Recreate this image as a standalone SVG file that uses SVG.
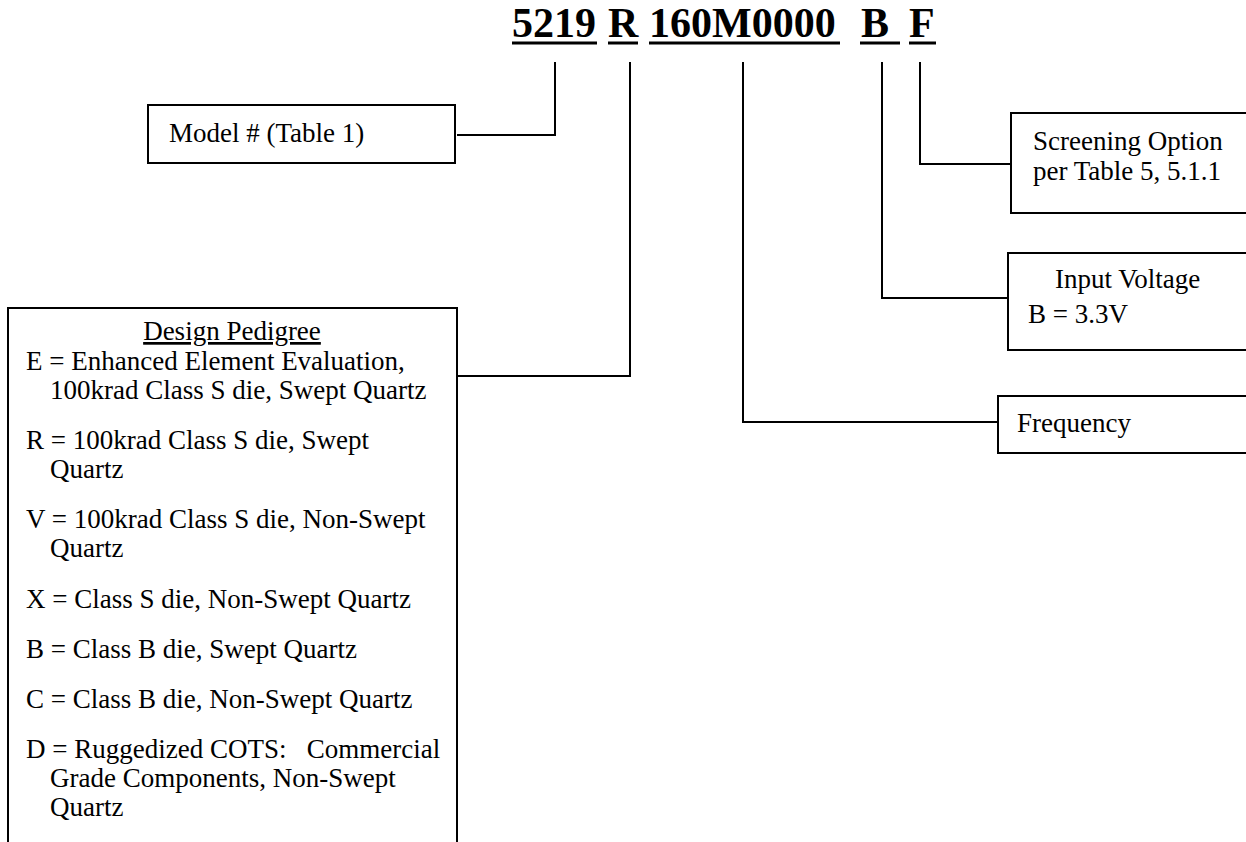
<svg xmlns="http://www.w3.org/2000/svg" width="1246" height="842" viewBox="0 0 1246 842">
<style>
.t{font-family:"Liberation Serif","Times New Roman",serif;font-size:27px;fill:#000}
.title{font-family:"Liberation Serif","Times New Roman",serif;font-size:42px;font-weight:bold;fill:#000}
.box{fill:#fff;stroke:#000;stroke-width:2}
.ul{stroke:#000;stroke-width:3}
.c{fill:none;stroke:#000;stroke-width:2}
</style>
<rect width="1246" height="842" fill="#fff"/>
<g id="title">
<text class="title" y="37"><tspan x="512">5219</tspan><tspan x="608">R</tspan><tspan x="649">160M0000</tspan><tspan x="861">B</tspan><tspan x="909">F</tspan></text>
<line class="ul" x1="512" y1="43" x2="597" y2="43"/>
<line class="ul" x1="608" y1="43" x2="638" y2="43"/>
<line class="ul" x1="649" y1="43" x2="840" y2="43"/>
<line class="ul" x1="860" y1="43" x2="900" y2="43"/>
<line class="ul" x1="909" y1="43" x2="936" y2="43"/>
</g>
<g id="connectors">
<path class="c" d="M555,62 V135 H457"/>
<path class="c" d="M630,62 V376 H457"/>
<path class="c" d="M743,62 V422 H998"/>
<path class="c" d="M882,62 V298 H1008"/>
<path class="c" d="M920,62 V164 H1011"/>
</g>
<g id="model">
<rect class="box" x="148" y="105" width="307" height="58"/>
<text class="t" x="169" y="142">Model # (Table 1)</text>
</g>
<g id="screening">
<rect class="box" x="1011" y="113" width="245" height="100"/>
<text class="t" x="1033" y="150">Screening Option</text>
<text class="t" x="1033" y="180">per Table 5, 5.1.1</text>
</g>
<g id="voltage">
<rect class="box" x="1008" y="253" width="248" height="97"/>
<text class="t" x="1055" y="288">Input Voltage</text>
<text class="t" x="1028" y="323">B = 3.3V</text>
</g>
<g id="frequency">
<rect class="box" x="998" y="396" width="258" height="57"/>
<text class="t" x="1017" y="432">Frequency</text>
</g>
<g id="pedigree">
<path class="box" d="M8,850 V308 H457 V850"/>
<text class="t" x="232" y="340" text-anchor="middle" text-decoration="underline">Design Pedigree</text>
<text class="t" x="26" y="370">E = Enhanced Element Evaluation,</text>
<text class="t" x="50" y="399">100krad Class S die, Swept Quartz</text>
<text class="t" x="26" y="449">R = 100krad Class S die, Swept</text>
<text class="t" x="50" y="478">Quartz</text>
<text class="t" x="26" y="528">V = 100krad Class S die, Non-Swept</text>
<text class="t" x="50" y="557">Quartz</text>
<text class="t" x="26" y="608">X = Class S die, Non-Swept Quartz</text>
<text class="t" x="26" y="658">B = Class B die, Swept Quartz</text>
<text class="t" x="26" y="708">C = Class B die, Non-Swept Quartz</text>
<text class="t" x="26" y="758" xml:space="preserve">D = Ruggedized COTS:   Commercial</text>
<text class="t" x="50" y="787">Grade Components, Non-Swept</text>
<text class="t" x="50" y="816">Quartz</text>
</g>
</svg>
